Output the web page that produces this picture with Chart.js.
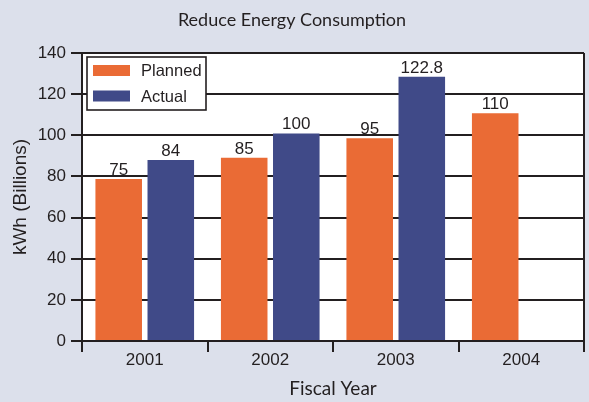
<!DOCTYPE html>
<html><head><meta charset="utf-8">
<script src="https://cdn.jsdelivr.net/npm/chart.js@4/dist/chart.umd.min.js"></script>
<style>
html,body{margin:0;padding:0;background:#dce0eb;}
canvas{display:block;}
</style></head><body>
<canvas id="c" width="589" height="402"></canvas>
<script>
// data (bar heights as drawn; printed labels separately)
const years = ['2001','2002','2003','2004'];
const planned = [78.8, 89.1, 98.5, 110.7];
const actual = [88.0, 100.9, 128.5, null];
const plannedText = ['75','85','95','110'];
const actualText = ['84','100','122.8',''];
const yTicks = [0,20,40,60,80,100,120,140];

const dark = '#231f20';
const orange = '#ea6b35';
const blue = '#404a88';
const numFont = '"Liberation Sans", Arial, sans-serif';
const numSize = 17;

Chart.defaults.font.family = numFont;
Chart.defaults.color = dark;

const plotBg = {
  id:'plotBg',
  beforeDraw(chart){
    const {ctx, chartArea:a} = chart;
    ctx.save(); ctx.fillStyle = '#fff';
    ctx.fillRect(a.left, a.top, a.right-a.left, a.bottom-a.top);
    ctx.restore();
  }
};

const valueLabels = {
  id:'valueLabels',
  afterDatasetsDraw(chart){
    const ctx = chart.ctx;
    const texts = [plannedText, actualText];
    ctx.save();
    ctx.font = numSize + 'px ' + numFont;
    ctx.fillStyle = dark; ctx.textAlign = 'center'; ctx.textBaseline = 'alphabetic';
    chart.data.datasets.forEach((ds,i)=>{
      chart.getDatasetMeta(i).data.forEach((bar,j)=>{
        const t = texts[i][j];
        if (t) ctx.fillText(t, bar.x, bar.y - 4);
      });
    });
    ctx.restore();
  }
};

const boxLegend = {
  id:'boxLegend',
  afterDraw(chart){
    const ctx = chart.ctx;
    const a = chart.chartArea;
    const x = a.left + 5, y = a.top + 4, w = 119, h = 53;
    ctx.save();
    ctx.fillStyle = '#fff'; ctx.fillRect(x, y, w, h);
    ctx.strokeStyle = dark; ctx.lineWidth = 1.6; ctx.strokeRect(x, y, w, h);
    ctx.font = '16.5px ' + numFont; ctx.textBaseline = 'middle'; ctx.textAlign = 'left';
    chart.data.datasets.forEach((ds,i)=>{
      const cy = y + 13.5 + i*25.5;
      ctx.fillStyle = ds.backgroundColor;
      ctx.fillRect(x + 6, cy - 5.5, 37, 11);
      ctx.fillStyle = dark;
      ctx.fillText(ds.label, x + 54, cy + 1);
    });
    ctx.restore();
  }
};

new Chart(document.getElementById('c'), {
  type:'bar',
  data:{
    labels: years,
    datasets:[
      { label:'Planned', data: planned, backgroundColor: orange, categoryPercentage:0.83, barPercentage:0.894 },
      { label:'Actual', data: actual, backgroundColor: blue, categoryPercentage:0.83, barPercentage:0.894 }
    ]
  },
  options:{
    responsive:false,
    animation:false,
    layout:{ padding:{ left:0, right:5, top:0, bottom:0 } },
    plugins:{
      legend:{ display:false },
      tooltip:{ enabled:false },
      title:{ display:true, text:'Reduce Energy Consumption', color:dark,
        font:{ family:'Lato, "Open Sans", sans-serif', size:18, weight:'normal' },
        padding:{ top:9, bottom:22.4 } }
    },
    scales:{
      x:{
        afterFit(s){ s.height = 61; },
        border:{ color:dark, width:2 },
        grid:{ color: c => c.type === 'tick' ? 'rgba(0,0,0,0)' : dark, tickColor:dark, lineWidth:2, tickLength:11, drawOnChartArea:true },
        ticks:{ font:{ size:numSize }, color:dark, padding:-2 },
        title:{ display:true, text:'Fiscal Year', color:dark,
          font:{ family:'Lato, "Open Sans", sans-serif', size:19 }, padding:{ top:0, bottom:2 } }
      },
      y:{
        min:0, max:140,
        afterFit(s){ s.width = 82; },
        afterBuildTicks(s){ s.ticks = yTicks.map(v=>({ value:v })); },
        border:{ color:dark, width:2 },
        grid:{ color:dark, lineWidth:2, tickLength:11 },
        ticks:{ font:{ size:numSize }, color:dark, padding:5 },
        title:{ display:true, text:'kWh (Billions)', color:dark,
          font:{ size:19 }, padding:{ top:9.5, bottom:0 } }
      }
    }
  },
  plugins:[plotBg, valueLabels, boxLegend]
});
</script>
</body></html>
